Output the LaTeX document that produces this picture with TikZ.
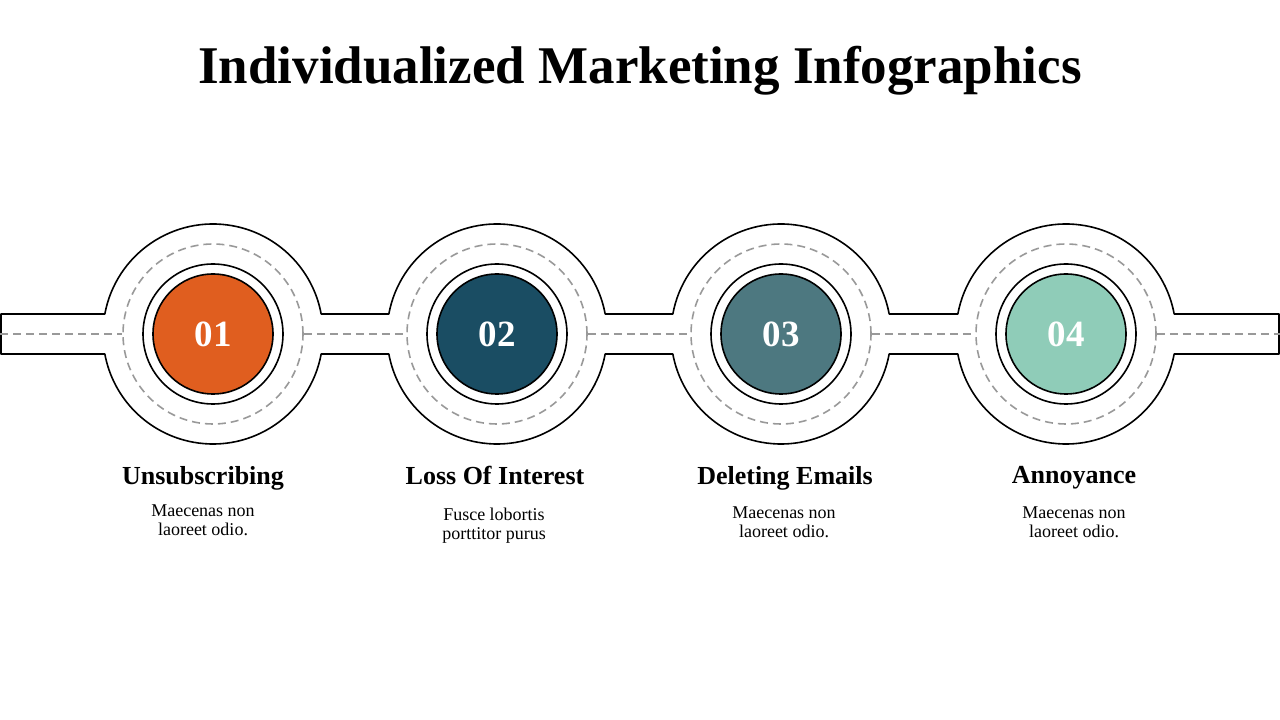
\documentclass[tikz,border=0pt]{standalone}
\usepackage{fontspec}
\setmainfont{Liberation Serif}
\usetikzlibrary{positioning,calc}

\definecolor{stepone}{HTML}{E05E1F}
\definecolor{steptwo}{HTML}{1A4D63}
\definecolor{stepthree}{HTML}{4D7880}
\definecolor{stepfour}{HTML}{8FCCB8}
\definecolor{laneline}{HTML}{999999}

\tikzset{
  outer/.style={circle, minimum size=220pt, inner sep=0pt, outer sep=0pt},
  lane/.style={circle, draw=laneline, line width=1.6pt, dash pattern=on 8pt off 5pt, minimum size=180pt, inner sep=0pt},
  ring/.style={circle, draw, line width=1.6pt, minimum size=140pt, inner sep=0pt},
  disc/.style={circle, draw, line width=1.6pt, minimum size=120pt, inner sep=0pt, text=white, font=\bfseries\fontsize{37}{37}\selectfont},
  head/.style={font=\bfseries\fontsize{26}{30}\selectfont, inner sep=0pt},
  desc/.style={font=\fontsize{18}{19}\selectfont, align=center, inner sep=0pt},
  roadline/.style={draw=laneline, line width=1.6pt, dash pattern=on 8pt off 5pt}
}

\begin{document}
\begin{tikzpicture}[x=1pt, y=1pt]
    \useasboundingbox (0,0) rectangle (1280,720);

    % Title

    \node[font=\bfseries\fontsize{53}{56}\selectfont, anchor=base] (title) at (640,636) {Individualized Marketing Infographics};

    % Nodes

    \node[outer] (o1) at (213,386) {};
    \node[outer, right=64pt of o1] (o2) {};
    \node[outer, right=64pt of o2] (o3) {};
    \node[outer, right=65pt of o3] (o4) {};

    \coordinate (lt) at (1,406);
    \coordinate (lb) at (1,366);
    \coordinate (rt) at (1279,406);
    \coordinate (rb) at (1279,366);
    \coordinate (le) at (0,386);
    \coordinate (re) at (1280,386);

    % Road

    \draw[line width=1.6pt, line join=round]
      (lt) -- ($(o1)+(169.52:110)$) arc[start angle=169.52, end angle=10.48, radius=110pt]
      -- ($(o2)+(169.52:110)$) arc[start angle=169.52, end angle=10.48, radius=110pt]
      -- ($(o3)+(169.52:110)$) arc[start angle=169.52, end angle=10.48, radius=110pt]
      -- ($(o4)+(169.52:110)$) arc[start angle=169.52, end angle=10.48, radius=110pt]
      -- (rt) -- (rb)
      -- ($(o4)+(349.52:110)$) arc[start angle=349.52, end angle=190.48, radius=110pt]
      -- ($(o3)+(349.52:110)$) arc[start angle=349.52, end angle=190.48, radius=110pt]
      -- ($(o2)+(349.52:110)$) arc[start angle=349.52, end angle=190.48, radius=110pt]
      -- ($(o1)+(349.52:110)$) arc[start angle=349.52, end angle=190.48, radius=110pt]
      -- (lb) -- cycle;

    \node[lane] (d1) at (o1) {};
    \node[lane] (d2) at (o2) {};
    \node[lane] (d3) at (o3) {};
    \node[lane] (d4) at (o4) {};

    \node[ring] (r1) at (o1) {};
    \node[ring] (r2) at (o2) {};
    \node[ring] (r3) at (o3) {};
    \node[ring] (r4) at (o4) {};

    \node[disc, fill=stepone] (c1) at (o1) {01};
    \node[disc, fill=steptwo] (c2) at (o2) {02};
    \node[disc, fill=stepthree] (c3) at (o3) {03};
    \node[disc, fill=stepfour] (c4) at (o4) {04};

    % Labels

    \node[head, below=22pt of o1, xshift=-10pt] (t1) {Unsubscribing};
    \node[head, below=22pt of o2, xshift=-2pt] (t2) {Loss Of Interest};
    \node[head, below=22pt of o3, xshift=4pt] (t3) {Deleting Emails};
    \node[head, below=22pt of o4, xshift=8pt] (t4) {Annoyance};

    \node[desc, below=61pt of o1, xshift=-10pt] (s1) {Maecenas non\\laoreet odio.};
    \node[desc, below=64pt of o2, xshift=-3pt] (s2) {Fusce lobortis\\porttitor purus};
    \node[desc, below=63pt of o3, xshift=3pt] (s3) {Maecenas non\\laoreet odio.};
    \node[desc, below=63pt of o4, xshift=8pt] (s4) {Maecenas non\\laoreet odio.};

    % Edges

    \draw[roadline] (le) -- (d1);
    \draw[roadline] (d1) -- (d2);
    \draw[roadline] (d2) -- (d3);
    \draw[roadline] (d3) -- (d4);
    \draw[roadline] (d4) -- (re);

\end{tikzpicture}
\end{document}
